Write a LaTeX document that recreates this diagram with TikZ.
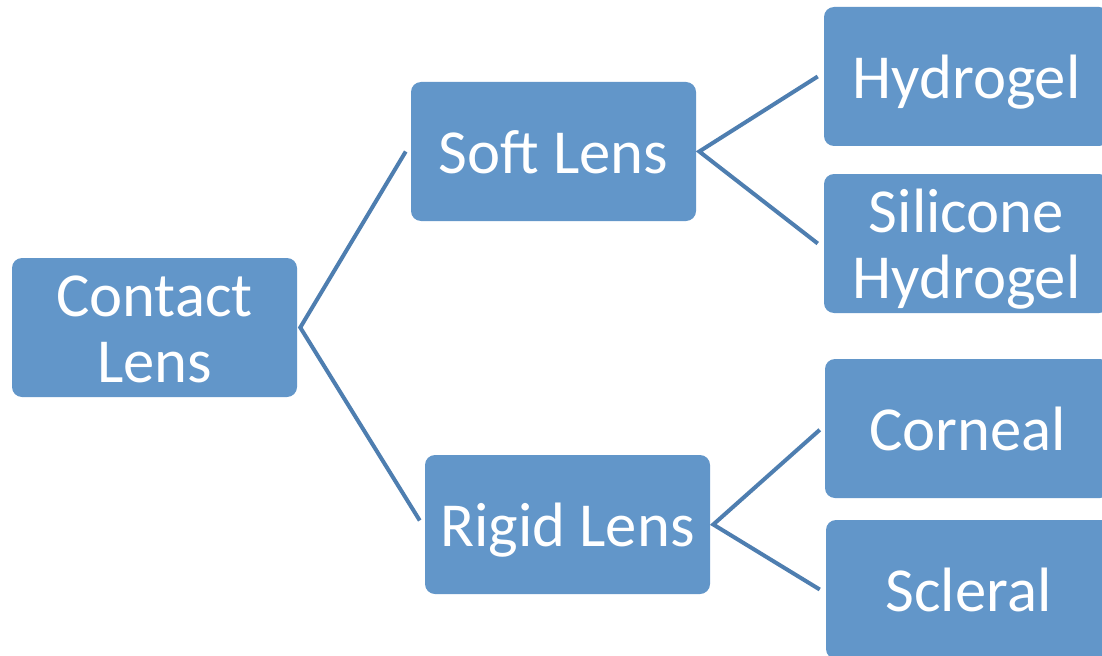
\documentclass[tikz,border=0pt]{standalone}
\usepackage{fontspec}
\setmainfont{Carlito}
\definecolor{boxfill}{RGB}{98,150,201}
\definecolor{linkcol}{RGB}{78,126,176}
\newcommand\onelinetxt[1]{\raisebox{0pt}[32.5pt][0pt]{#1}}
\newcommand\twolinetxt[2]{\raisebox{0pt}[32.5pt][49.5pt]{\begin{tabular}[t]{@{}c@{}}#1\\#2\end{tabular}}}
\begin{document}
\begin{tikzpicture}[x=0.75pt,y=-0.75pt,
  box/.style={fill=boxfill,rounded corners=7.5pt,minimum width=213.75pt,minimum height=104.25pt,
    inner sep=0pt,text=white,font=\fontsize{47}{49.5}\selectfont},
  link/.style={draw=linkcol,line width=3pt}]
\clip (0,0) rectangle (1102,656);
\fill[white] (0,0) rectangle (1102,656);
\node[box] (cl) at (154.5,327.5) {\twolinetxt{Contact}{Lens}};
\node[box] (soft) at (553.5,151.5) {\onelinetxt{Soft Lens}};
\node[box] (rigid) at (567.5,524.5) {\onelinetxt{Rigid Lens}};
\node[box] (hyd) at (966.5,76.5) {\onelinetxt{Hydrogel}};
\node[box] (sil) at (966.5,243.5) {\twolinetxt{Silicone}{Hydrogel}};
\node[box] (cor) at (967.5,428.5) {\onelinetxt{Corneal}};
\node[box] (scl) at (968.5,589.5) {\onelinetxt{Scleral}};
\coordinate (j1) at ([xshift=2.25pt]cl.east);
\coordinate (j2) at ([xshift=2.25pt]soft.east);
\coordinate (j3) at ([xshift=2.25pt]rigid.east);
\draw[link] ([xshift=-3.75pt]soft.west) -- (j1) -- ([xshift=-3.75pt,yshift=3pt]rigid.west);
\draw[link] ([xshift=-4.5pt]hyd.west) -- (j2) -- ([xshift=-4.5pt]sil.west);
\draw[link] ([xshift=-3.75pt,yshift=-1pt]cor.west) -- (j3) -- ([xshift=-4.5pt]scl.west);
\end{tikzpicture}
\end{document}
